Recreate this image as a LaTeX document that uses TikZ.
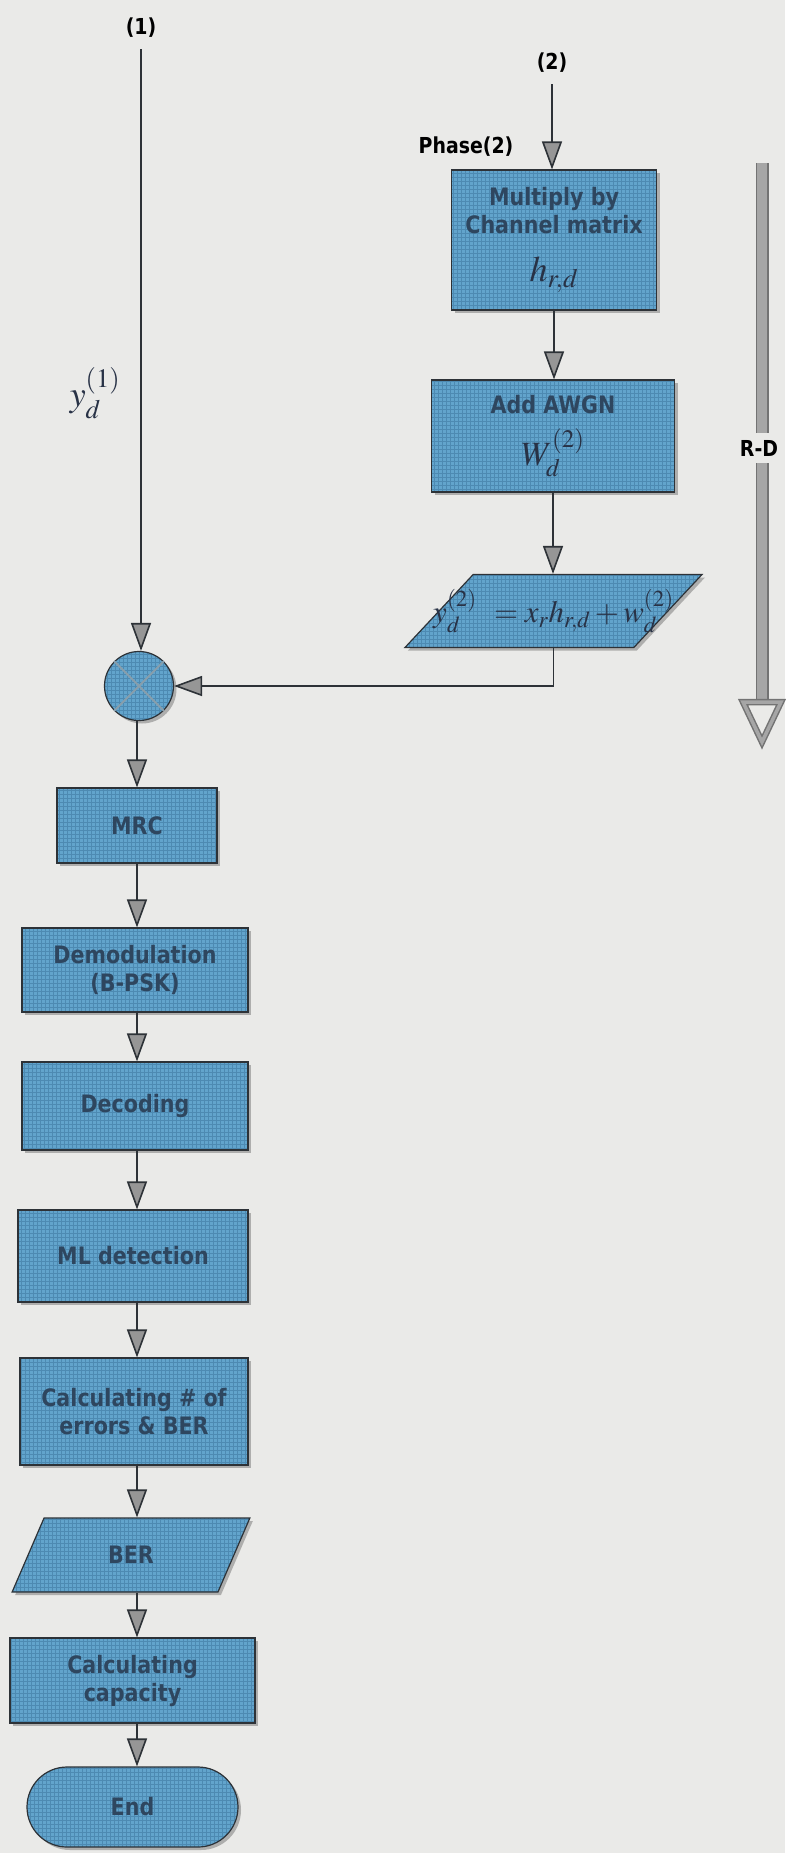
\documentclass[tikz,border=0pt]{standalone}
\usepackage{mathptmx}
\usepackage{fontspec}
\newfontfamily\boxfont{DejaVu Sans}[FakeStretch=0.86]
\usetikzlibrary{arrows.meta,shapes.geometric,shapes.misc,shadows,calc}

\definecolor{bg}{RGB}{234,234,232}
\definecolor{boxfill}{RGB}{98,164,204}
\definecolor{boxgrid}{RGB}{35,85,125}
\definecolor{boxtext}{RGB}{46,70,95}
\definecolor{edge}{RGB}{45,50,55}
\definecolor{tipfill}{RGB}{150,150,150}
\definecolor{mathink}{RGB}{40,50,70}
\definecolor{crossline}{RGB}{135,158,172}

\tikzset{
  blockbase/.style={draw=edge, line width=1.2pt, fill=boxfill, text=boxtext,
    font={\boxfont\bfseries\fontsize{24}{28}\selectfont}, align=center, inner sep=2pt,
    drop shadow={shadow xshift=3pt, shadow yshift=-3pt, opacity=0.45, fill=black!60},
    path picture={\draw[boxgrid, opacity=0.32, line width=0.7pt, step=4]
      (path picture bounding box.south west) grid (path picture bounding box.north east);}},
  procbox/.style={blockbase, rectangle},
  iobox/.style={blockbase, trapezium, trapezium left angle=67, trapezium right angle=113,
    trapezium stretches=true},
  endbox/.style={blockbase, rounded rectangle},
  flow/.style={draw=edge, line width=1.6pt, -{Triangle[length=28pt, width=20pt, fill=tipfill]}},
  tag/.style={font={\boxfont\bfseries\fontsize{22}{24}\selectfont}, text=black},
  mathtxt/.style={text=mathink, font={\fontsize{31}{35}\selectfont}},
  rdbar/.style={draw=black!55, line width=1.5pt, double=black!35, double distance=10pt},
  rdhead/.style={draw=black!55, line width=1.5pt, double=black!35, double distance=3.5pt,
    line join=miter, fill=bg},
}

\begin{document}
\begin{tikzpicture}[x=1pt, y=1pt]
  % page
  \fill[bg] (0,0) rectangle (785,-1853);
  \useasboundingbox (0,0) rectangle (785,-1853);

  % ---- phase (2): relay to destination ----
  \node[tag] (l2) at (552,-63) {(2)};
  \node[tag] (phase) at (466,-147) {Phase(2)};
  \node[procbox, minimum width=205, minimum height=140] (mult) at (554,-240)
    {Multiply by\\Channel matrix\\[20pt]{\color{mathink}\fontsize{36}{38}\selectfont$h_{r,d}$}};
  \node[procbox, minimum width=243, minimum height=112] (awgn) at (553,-436)
    {Add AWGN\\[14pt]{\color{mathink}\fontsize{34}{36}\selectfont$W_d^{(2)}$}};
  \node[iobox, minimum width=297, minimum height=73] (eq) at (553.5,-611) {};
  \node[mathtxt] (eqtxt) at (eq.center)
    {$y_d^{(2)}\;\,= x_r h_{r,d} + w_d^{(2)}$};

  % ---- phase (1) input and combiner ----
  \node[tag] (l1) at (141,-28) {(1)};
  \node[mathtxt, font={\fontsize{36}{38}\selectfont}] (y1) at (95,-393) {$y_d^{(1)}$};
  \node[blockbase, circle, minimum size=69] (mix) at (139,-686) {};
  \draw[crossline, line width=2pt] (mix.north west) -- (mix.south east)
                                   (mix.north east) -- (mix.south west);

  % ---- receiver chain ----
  \coordinate (col) at (137,0);
  \node[procbox, minimum width=160, minimum height=75] (mrc) at (137,-825.5) {MRC};
  \node[procbox, minimum width=226, minimum height=84] (demod) at (135,-970)
    {Demodulation\\(B-PSK)};
  \node[procbox, minimum width=226, minimum height=88] (dec) at (135,-1106) {Decoding};
  \node[procbox, minimum width=230, minimum height=92] (ml) at (133,-1256) {ML detection};
  \node[procbox, minimum width=228, minimum height=107] (err) at (134,-1411.5)
    {Calculating \# of\\errors \& BER};
  \node[iobox, minimum width=238, minimum height=74] (ber) at (131,-1555) {BER};
  \node[procbox, minimum width=245, minimum height=85] (cap) at (132.5,-1680.5)
    {Calculating\\capacity};
  \node[endbox, minimum width=215, minimum height=80] (end) at (132.5,-1807) {End};

  % ---- connectors ----
  \draw[flow, shorten <=8pt] (l2) -- (l2 |- mult.north);
  \draw[flow] (mult.south) -- (mult.south |- awgn.north);
  \draw[flow] (awgn.south) -- (awgn.south |- eq.north);
  \draw[flow] (eq.south) |- (mix.east);
  \draw[flow, shorten <=8pt] (l1) -- (l1 |- mix.north);
  \draw[flow] (mix.south -| col) -- (mrc.north -| col);
  \draw[flow] (mrc.south -| col) -- (demod.north -| col);
  \draw[flow] (demod.south -| col) -- (dec.north -| col);
  \draw[flow] (dec.south -| col) -- (ml.north -| col);
  \draw[flow] (ml.south -| col) -- (err.north -| col);
  \draw[flow] (err.south -| col) -- (ber.north -| col);
  \draw[flow] (ber.south -| col) -- (cap.north -| col);
  \draw[flow] (cap.south -| col) -- (end.north -| col);

  % ---- R-D direction marker ----
  \coordinate (rdtop) at (762,-163);
  \coordinate (rdbot) at (762,-702);
  \draw[rdbar] (rdtop) -- (rdbot);
  \draw[rdhead] ($(rdbot)+(-19,0)$) -- ($(rdbot)+(19,0)$) -- ($(rdbot)+(0,-40)$) -- cycle;
  \node[tag, fill=bg, inner xsep=1pt, inner ysep=7pt] (rd) at (759,-448) {R-D};
\end{tikzpicture}
\end{document}
